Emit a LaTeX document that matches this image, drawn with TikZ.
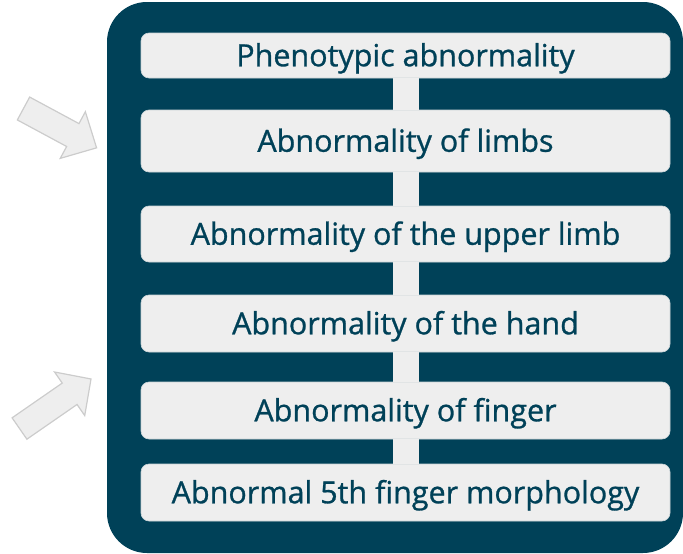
\documentclass[tikz,border=0pt]{standalone}
\usepackage{fontspec}
\setmainfont{Open Sans}
\newfontfamily\termfont{Open Sans}[FakeBold=0.9]
\usetikzlibrary{positioning}

\begin{document}
\begin{tikzpicture}[x=1pt,y=-1pt]
  \definecolor{hpoteal}{RGB}{0,65,88}
  \definecolor{termgray}{RGB}{238,238,238}
  \definecolor{arrowedge}{RGB}{204,204,204}

  \tikzset{
    panel/.style={fill=hpoteal,rounded corners=40pt},
    termbox/.style={rounded corners=8pt,fill=termgray,draw=termgray!85!hpoteal,line width=0.6pt,
      minimum width=529pt,inner sep=0pt,text=hpoteal,text height=21.5pt,text depth=0pt,
      font=\termfont\fontsize{30.5}{34}\selectfont},
    linkbar/.style={draw=termgray,line width=26pt},
    hintarrow/.style={fill=termgray,draw=arrowedge,line width=1.2pt,line join=miter}
  }

  \useasboundingbox (0,0) rectangle (683,554);
  \fill[panel] (107,2) rectangle (683,553);

  % ---------------- term chain ----------------
  \node[termbox,minimum height=45pt] (t1) at (405.5,55.5) {Phenotypic abnormality};
  \node[termbox,minimum height=62pt] (t2) at (405.5,141) {Abnormality of limbs};
  \node[termbox,minimum height=56pt] (t3) at (405.5,234) {Abnormality of the upper limb};
  \node[termbox,minimum height=57pt] (t4) at (405.5,323.5) {Abnormality of the hand};
  \node[termbox,minimum height=57pt] (t5) at (405.5,410.5) {Abnormality of finger};
  \node[termbox,minimum height=57pt] (t6) at (405.5,492.5) {Abnormal 5th finger morphology};

  % links between terms
  \foreach \a/\b in {t1/t2,t2/t3,t3/t4,t4/t5,t5/t6}
    \draw[linkbar] (\a.south) -- (\b.north);

  % ---------------- pointer arrows ----------------
  \begin{scope}[shift={(23.5,108.5)},rotate=-28.3]
    \draw[hintarrow] (0,-13) -- (56,-13) -- (56,-26.5) -- (83,0) -- (56,26.5) -- (56,13) -- (0,13) -- cycle;
  \end{scope}
  \begin{scope}[shift={(19.5,428.5)},rotate=34.7]
    \draw[hintarrow] (0,-13) -- (61,-13) -- (61,-26.5) -- (87,0) -- (61,26.5) -- (61,13) -- (0,13) -- cycle;
  \end{scope}
\end{tikzpicture}
\end{document}
